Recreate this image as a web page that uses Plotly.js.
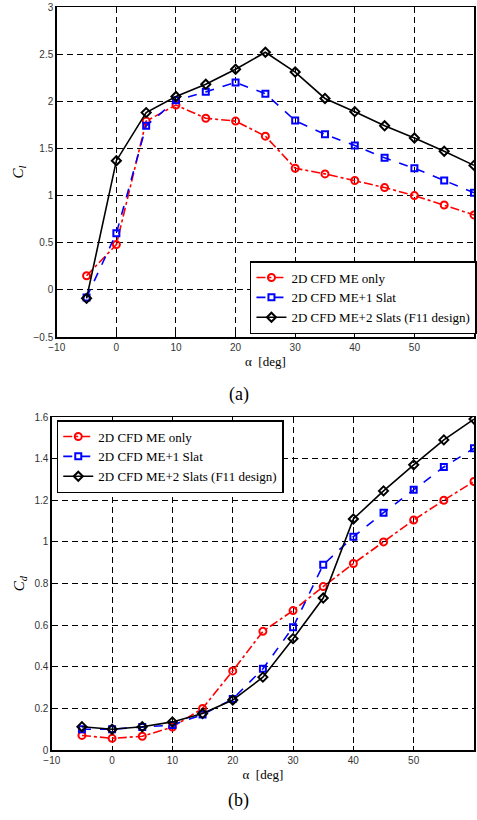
<!DOCTYPE html>
<html>
<head>
<meta charset="utf-8">
<script src="https://cdn.plot.ly/plotly-3.0.1.min.js"></script>
<style>
html,body{margin:0;padding:0;background:#fff;}
#chart{width:477px;height:820px;}
</style>
</head>
<body>
<div id="chart"></div>
<script>
// angle of attack [deg]
const alpha = [-5, 0, 5, 10, 15, 20, 25, 30, 35, 40, 45, 50, 55, 60];

// (a) lift coefficient
const clMEonly   = [0.15, 0.48, 1.79, 1.96, 1.82, 1.79, 1.63, 1.29, 1.23, 1.16, 1.085, 1.00, 0.90, 0.795];
const clME1Slat  = [-0.08, 0.60, 1.74, 2.01, 2.10, 2.20, 2.08, 1.795, 1.65, 1.53, 1.40, 1.29, 1.16, 1.03];
const clME2Slats = [-0.09, 1.37, 1.88, 2.05, 2.18, 2.34, 2.52, 2.31, 2.03, 1.89, 1.74, 1.61, 1.47, 1.32];

// (b) drag coefficient
const cdMEonly   = [0.07, 0.056, 0.066, 0.11, 0.20, 0.38, 0.57, 0.67, 0.785, 0.896, 1.00, 1.105, 1.20, 1.29];
const cdME1Slat  = [0.10, 0.10, 0.11, 0.12, 0.17, 0.245, 0.39, 0.59, 0.89, 1.025, 1.14, 1.25, 1.36, 1.45];
const cdME2Slats = [0.112, 0.10, 0.112, 0.135, 0.175, 0.24, 0.35, 0.535, 0.73, 1.11, 1.245, 1.37, 1.49, 1.59];

const seriesNames = ['2D CFD ME only', '2D CFD ME+1 Slat', '2D CFD ME+2 Slats (F11 design)'];
const clTicks = [-0.5, 0, 0.5, 1, 1.5, 2, 2.5, 3];
const cdTicks = [0, 0.2, 0.4, 0.6, 0.8, 1, 1.2, 1.4, 1.6];
const xTicks = [-10, 0, 10, 20, 30, 40, 50, 60];

const styles = [
  {color: '#ff0000', dash: 'dashdot', symbol: 'circle-open', size: 7},
  {color: '#0000ff', dash: 'dash', symbol: 'square-open', size: 6},
  {color: '#000000', dash: 'solid', symbol: 'diamond-open', size: 7}
];

function mk(y, i, xa, ya, leg) {
  const s = styles[i];
  return {
    x: alpha, y: y, name: seriesNames[i], type: 'scatter', mode: 'lines+markers',
    xaxis: xa, yaxis: ya, legend: leg,
    line: {color: s.color, dash: s.dash, width: 1.6},
    marker: {symbol: s.symbol, size: s.size, color: s.color, line: {color: s.color, width: 2}}
  };
}

const data = [
  mk(clMEonly, 0, 'x', 'y', 'legend'),
  mk(clME1Slat, 1, 'x', 'y', 'legend'),
  mk(clME2Slats, 2, 'x', 'y', 'legend'),
  mk(cdMEonly, 0, 'x2', 'y2', 'legend2'),
  mk(cdME1Slat, 1, 'x2', 'y2', 'legend2'),
  mk(cdME2Slats, 2, 'x2', 'y2', 'legend2')
];

const tickFont = {family: 'Liberation Sans, Arial, sans-serif', size: 10, color: '#333'};
const serif = 'Liberation Serif, Times New Roman, serif';

function xax(domain, anchor) {
  return {
    domain: domain, anchor: anchor, range: [-10, 60], tickvals: xTicks,
    showline: true, mirror: true, linecolor: '#000', linewidth: 1.5,
    showgrid: true, gridcolor: '#000', gridwidth: 1, griddash: '6px,4px',
    zeroline: false, ticks: 'inside', ticklen: 4, tickcolor: '#000',
    tickfont: tickFont,
    title: {text: 'α  [deg]', font: {family: serif, size: 13, color: '#000'}, standoff: 5}
  };
}
function yax(domain, anchor, range, ticks, title) {
  return {
    domain: domain, anchor: anchor, range: range, tickvals: ticks,
    showline: true, mirror: true, linecolor: '#000', linewidth: 1.5,
    showgrid: true, gridcolor: '#000', gridwidth: 1, griddash: '6px,4px',
    zeroline: false, ticks: 'inside', ticklen: 4, tickcolor: '#000',
    tickfont: tickFont,
    title: {text: title, font: {family: serif, size: 15, color: '#000'}, standoff: 6}
  };
}

const legendBase = {
  bgcolor: '#fff', bordercolor: '#000', borderwidth: 1.5,
  font: {family: serif, size: 13, color: '#000'}, itemwidth: 30, tracegroupgap: 0
};

const layout = {
  width: 477, height: 820,
  margin: {l: 0, r: 0, t: 0, b: 0},
  paper_bgcolor: '#fff', plot_bgcolor: '#fff',
  xaxis: xax([57/477, 476/477], 'y'),
  yaxis: yax([1 - 337/820, 1 - 7/820], 'x', [-0.5, 3], clTicks, '<i>C<sub>l</sub></i>'),
  xaxis2: xax([52/477, 476/477], 'y2'),
  yaxis2: yax([1 - 750/820, 1 - 417/820], 'x2', [0, 1.6], cdTicks, '<i>C<sub>d</sub></i>'),
  legend: Object.assign({}, legendBase, {x: 251/477, y: 1 - 334/820, xanchor: 'left', yanchor: 'bottom'}),
  legend2: Object.assign({}, legendBase, {x: 57/477, y: 1 - 420/820, xanchor: 'left', yanchor: 'top'}),
  annotations: [
    {text: '(a)', xref: 'paper', yref: 'paper', x: 240/477, y: 1 - 394/820, showarrow: false,
     xanchor: 'center', yanchor: 'middle', font: {family: serif, size: 18, color: '#000'}},
    {text: '(b)', xref: 'paper', yref: 'paper', x: 240/477, y: 1 - 800/820, showarrow: false,
     xanchor: 'center', yanchor: 'middle', font: {family: serif, size: 18, color: '#000'}}
  ]
};

Plotly.newPlot('chart', data, layout, {displayModeBar: false, staticPlot: true});
</script>
</body>
</html>
